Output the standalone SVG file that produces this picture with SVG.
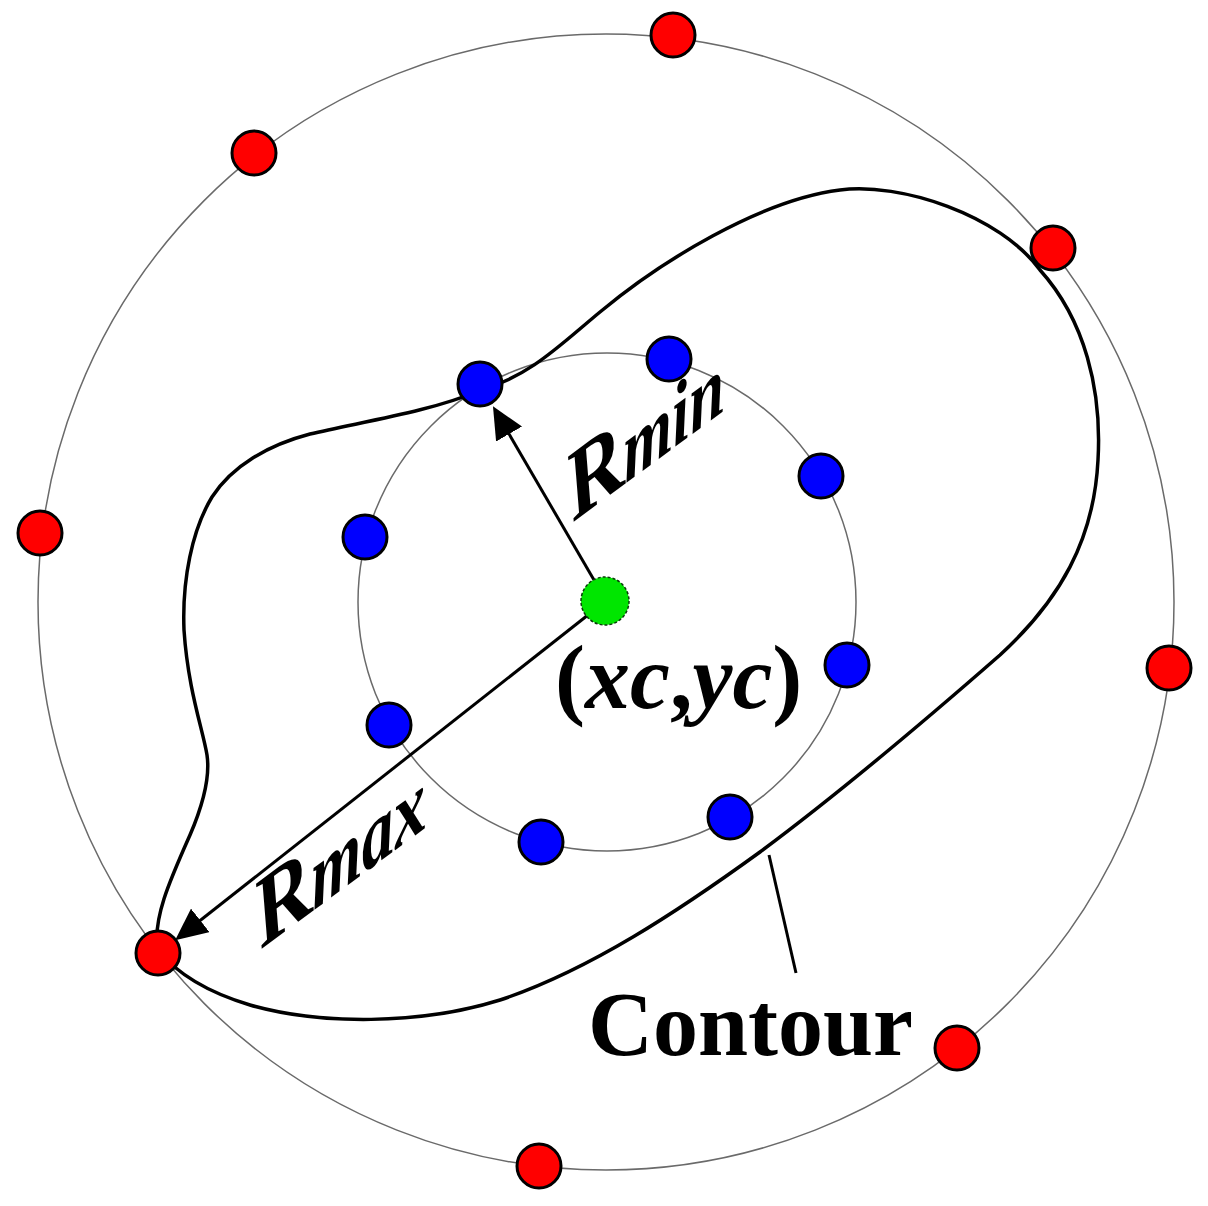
<svg xmlns="http://www.w3.org/2000/svg" width="1208" height="1206" viewBox="0 0 1208 1206">
<style>
.ring{fill:none;stroke:#6a6a6a;stroke-width:1.5}
.contour{fill:none;stroke:#000;stroke-width:3.5;stroke-linejoin:round}
.arrow{stroke:#000;stroke-width:3;fill:none}
.red{fill:#ff0000;stroke:#000;stroke-width:3}
.blue{fill:#0000ff;stroke:#000;stroke-width:3}
.green{fill:#00e600;stroke:#0a3a0a;stroke-width:1.5;stroke-dasharray:3 2}
.lbl{font-family:"Liberation Serif","Times New Roman",serif;font-weight:bold;fill:#000}
.it{font-style:italic}
</style>
<defs>
<marker id="ah" markerUnits="userSpaceOnUse" markerWidth="32" markerHeight="30" viewBox="0 0 32 30" refX="22" refY="15" orient="auto">
<path d="M0,0 L32,15 L0,30 Z" fill="#000"/>
</marker>
</defs>
<rect width="1208" height="1206" fill="#fff"/>
<g id="rings">
<circle class="ring" cx="606" cy="602" r="568"/>
<circle class="ring" cx="607" cy="602" r="249"/>
</g>
<g id="contour">
<path class="contour" d="M158,950 C152,920 170,880 190,835 C205,800 210,775 207,755 C203,730 188,690 184,630 C182,580 192,530 212,497 C232,466 268,445 310,434 C360,422 430,412 481,390 C530,376 560,345 600,312 C660,262 760,200 840,190 C900,182 1000,215 1040,270 C1085,320 1102,390 1098,460 C1094,540 1060,600 1000,655 C920,725 830,800 760,852 C680,910 590,970 500,1000 C420,1025 320,1025 250,1005 C210,993 178,975 158,950 Z"/>
</g>
<g id="connectors">
<line class="arrow" x1="594" y1="580" x2="498" y2="415" marker-end="url(#ah)"/>
<line class="arrow" x1="588" y1="615" x2="183" y2="934" marker-end="url(#ah)"/>
<line class="arrow" x1="769" y1="855" x2="796" y2="973"/>
</g>
<g id="outer-points">
<circle class="red" cx="673" cy="35" r="22"/>
<circle class="red" cx="254" cy="153" r="22"/>
<circle class="red" cx="1053" cy="248" r="22"/>
<circle class="red" cx="40" cy="533" r="22"/>
<circle class="red" cx="1169" cy="668" r="22"/>
<circle class="red" cx="158" cy="953" r="22"/>
<circle class="red" cx="957" cy="1048" r="22"/>
<circle class="red" cx="539" cy="1166" r="22"/>
</g>
<g id="inner-points">
<circle class="blue" cx="480" cy="384" r="22"/>
<circle class="blue" cx="669" cy="359" r="22"/>
<circle class="blue" cx="821" cy="476" r="22"/>
<circle class="blue" cx="847" cy="665" r="22"/>
<circle class="blue" cx="730" cy="817" r="22"/>
<circle class="blue" cx="541" cy="842" r="22"/>
<circle class="blue" cx="389" cy="725" r="22"/>
<circle class="blue" cx="365" cy="537" r="22"/>
</g>
<g id="center">
<circle class="green" cx="605" cy="601" r="24"/>
</g>
<g id="labels">
<text class="lbl" x="555" y="708" font-size="90">(<tspan class="it">xc</tspan>,<tspan class="it">yc</tspan>)</text>
<text class="lbl" x="588" y="1055" font-size="90">Contour</text>
<text class="lbl" font-size="80" transform="matrix(0.92,-0.68,0.1,1.25,572,523)">R<tspan class="it" font-size="68">min</tspan></text>
<text class="lbl" font-size="80" transform="matrix(0.92,-0.68,0.1,1.25,260,950)">R<tspan class="it" font-size="70">max</tspan></text>
</g>
</svg>
